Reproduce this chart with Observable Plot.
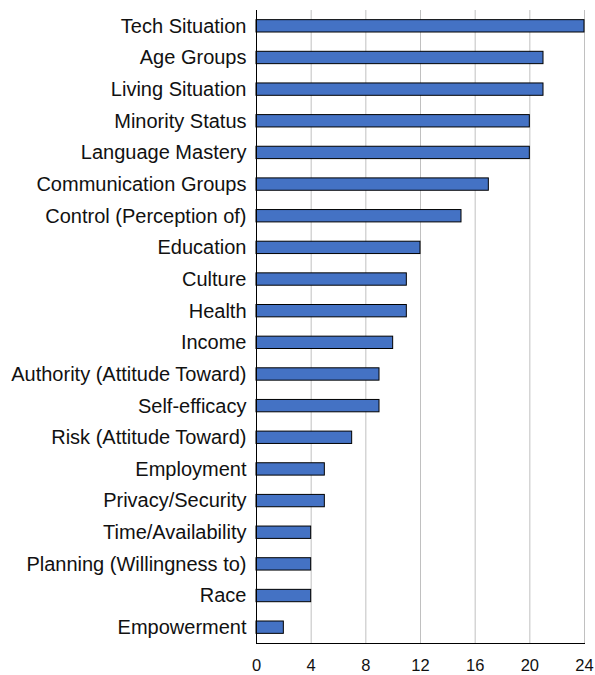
<!DOCTYPE html>
<html>
<head>
<meta charset="utf-8">
<script src="https://cdn.jsdelivr.net/npm/d3@7"></script>
<script src="https://cdn.jsdelivr.net/npm/@observablehq/plot@0.6"></script>
<style>
  html, body { margin: 0; padding: 0; background: #fff; }
  #chart svg { display: block; }
</style>
</head>
<body>
<div id="chart"></div>
<script>
const categories = [
  "Tech Situation", "Age Groups", "Living Situation", "Minority Status",
  "Language Mastery", "Communication Groups", "Control (Perception of)",
  "Education", "Culture", "Health", "Income", "Authority (Attitude Toward)",
  "Self-efficacy", "Risk (Attitude Toward)", "Employment", "Privacy/Security",
  "Time/Availability", "Planning (Willingness to)", "Race", "Empowerment"
];
const counts = [24, 21, 21, 20, 20, 17, 15, 12, 11, 11, 10, 9, 9, 7, 5, 5, 4, 4, 4, 2];
const xTicks = [0, 4, 8, 12, 16, 20, 24];

const data = categories.map((c, i) => ({category: c, count: counts[i]}));

const chart = Plot.plot({
  width: 595,
  height: 675,
  marginLeft: 256,
  marginRight: 11,
  marginTop: 10,
  marginBottom: 32,
  style: {fontFamily: "'Liberation Sans', Arial, sans-serif", fontSize: "16px", color: "#111", background: "#fff"},
  x: {domain: [0, 24], ticks: xTicks, label: null},
  y: {domain: categories, label: null, paddingInner: 0.61, paddingOuter: 0.305, round: false},
  marks: [
    Plot.gridX(xTicks, {stroke: "#c0c0c0", strokeOpacity: 1, strokeWidth: 1}),
    Plot.barX(data, {x: "count", y: "category", fill: "#4472C4", stroke: "#000", strokeWidth: 1}),
    Plot.ruleX([0], {stroke: "#000", strokeWidth: 1}),
    Plot.frame({anchor: "bottom", stroke: "#000", strokeWidth: 1}),
    Plot.axisX(xTicks, {tickSize: 0, tickPadding: 16, fontSize: 16.5, label: null}),
    Plot.axisY({tickSize: 0, tickPadding: 10, fontSize: 20, label: null})
  ]
});
document.getElementById("chart").appendChild(chart);
</script>
</body>
</html>
